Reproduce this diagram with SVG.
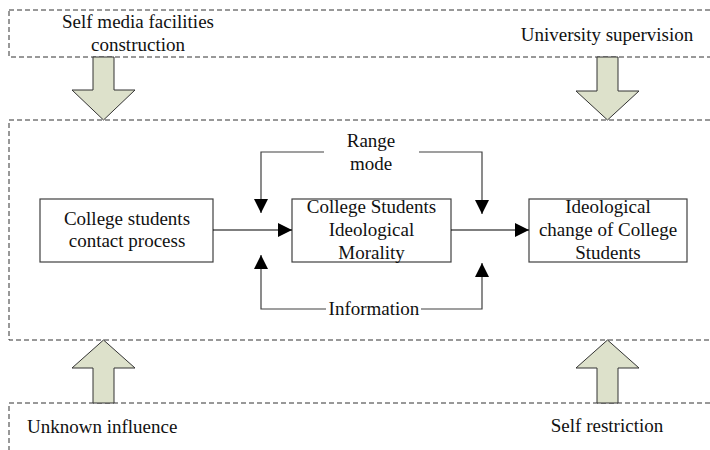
<svg xmlns="http://www.w3.org/2000/svg" width="710" height="450" viewBox="0 0 710 450">
<style>
text{font-family:"Liberation Serif","Times New Roman",serif;font-size:19px;fill:#111;text-anchor:middle}
.dash{fill:none;stroke:#333;stroke-width:1;stroke-dasharray:5 3}
.box{fill:#fff;stroke:#404040;stroke-width:1.2}
.big{fill:#dde1cb;stroke:#333;stroke-width:1}
.ln{fill:none;stroke:#000;stroke-width:1.2}
.fb{fill:none;stroke:#404040;stroke-width:1.2}
</style>
<defs>
<marker id="ah" markerWidth="14" markerHeight="14" refX="14" refY="7" orient="auto" markerUnits="userSpaceOnUse">
<path d="M0,0 L14,7 L0,14 z" fill="#000"/>
</marker>
</defs>
<rect width="710" height="450" fill="#fff"/>
<g id="top-region">
<rect class="dash" x="9" y="10" width="720" height="47"/>
<text x="138" y="28">Self media facilities</text>
<text x="138" y="51">construction</text>
<text x="607" y="41">University supervision</text>
</g>
<g id="middle-region">
<rect class="dash" x="9" y="120" width="720" height="220"/>
</g>
<g id="bottom-region">
<rect class="dash" x="9" y="403" width="720" height="60"/>
<text x="27" y="433" style="text-anchor:start">Unknown influence</text>
<text x="607" y="432">Self restriction</text>
</g>
<g id="n1">
<rect class="box" x="40" y="199" width="173" height="63"/>
<text x="127" y="225">College students</text>
<text x="127" y="247">contact process</text>
</g>
<g id="n2">
<rect class="box" x="292" y="199" width="159" height="63"/>
<text x="371.5" y="213">College Students</text>
<text x="371.5" y="236">Ideological</text>
<text x="371.5" y="259">Morality</text>
</g>
<g id="n3">
<rect class="box" x="529" y="199" width="158" height="63"/>
<text x="608" y="213">Ideological</text>
<text x="608" y="236">change of College</text>
<text x="608" y="259">Students</text>
</g>
<g id="range-label"><text x="371" y="147">Range</text><text x="371" y="170">mode</text></g>
<g id="info-label"><text x="374" y="315">Information</text></g>
<g id="connectors">
<polygon class="big" points="93,57 114,57 114,90 135,90 103.5,120 72,90 93,90"/>
<polygon class="big" points="597,57 618,57 618,91 639,91 607.5,120 576,91 597,91"/>
<polygon class="big" points="93,403 114,403 114,368 135,368 103.5,340 72,368 93,368"/>
<polygon class="big" points="597,403 618,403 618,368 639,368 607.5,340 576,368 597,368"/>
<path class="ln" d="M213,230 H292" marker-end="url(#ah)"/>
<path class="ln" d="M451,230 H529" marker-end="url(#ah)"/>
<path class="fb" d="M324,152 H261 V213" marker-end="url(#ah)"/>
<path class="fb" d="M419,152 H482 V214" marker-end="url(#ah)"/>
<path class="fb" d="M326,309 H261 V255" marker-end="url(#ah)"/>
<path class="fb" d="M421,309 H482 V263" marker-end="url(#ah)"/>
</g>
</svg>
